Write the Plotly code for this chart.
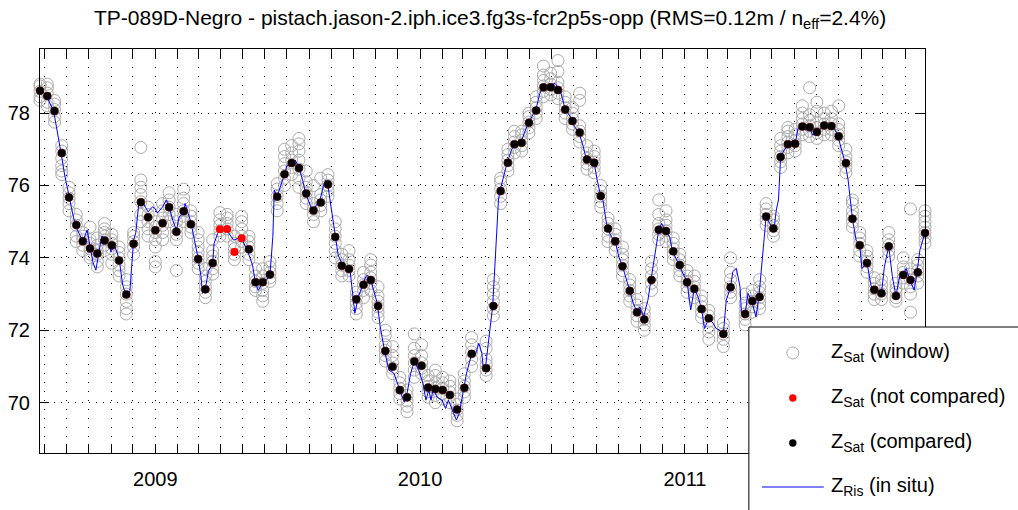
import plotly.graph_objects as go

TITLE = "TP-089D-Negro - pistach.jason-2.iph.ice3.fg3s-fcr2p5s-opp (RMS=0.12m / n<sub>eff</sub>=2.4%)"

# ---- satellite heights, compared (black) ----
cmp_dates = [
    "2008-07-26", "2008-08-05", "2008-08-15", "2008-08-25", "2008-09-04", "2008-09-14",
    "2008-09-23", "2008-10-03", "2008-10-13", "2008-10-23", "2008-11-02", "2008-11-12",
    "2008-11-22", "2008-12-02", "2008-12-12", "2008-12-22", "2009-01-01", "2009-01-11",
    "2009-01-20", "2009-01-30", "2009-02-09", "2009-02-19", "2009-03-01", "2009-03-11",
    "2009-03-21", "2009-05-10", "2009-05-19", "2009-05-29", "2009-06-08", "2009-06-18",
    "2009-06-28", "2009-07-08", "2009-07-18", "2009-07-28", "2009-08-07", "2009-08-17",
    "2009-08-27", "2009-09-06", "2009-09-15", "2009-09-25", "2009-10-05", "2009-10-15",
    "2009-10-25", "2009-11-04", "2009-11-14", "2009-11-24", "2009-12-04", "2009-12-14",
    "2009-12-24", "2010-01-03", "2010-01-12", "2010-01-22", "2010-02-01", "2010-02-11",
    "2010-02-21", "2010-03-03", "2010-03-13", "2010-04-02", "2010-04-12", "2010-04-22",
    "2010-05-02", "2010-05-11", "2010-05-21", "2010-05-31", "2010-06-10", "2010-06-20",
    "2010-06-30", "2010-07-10", "2010-07-20", "2010-07-30", "2010-08-09", "2010-08-19",
    "2010-08-29", "2010-09-07", "2010-09-17", "2010-09-27", "2010-10-07", "2010-10-17",
    "2010-10-27", "2010-11-06", "2010-11-16", "2010-11-26", "2010-12-06", "2010-12-16",
    "2010-12-25", "2011-01-04", "2011-01-14", "2011-01-24", "2011-02-03", "2011-02-23",
    "2011-03-05", "2011-03-25", "2011-04-04", "2011-04-14", "2011-04-23", "2011-05-03",
    "2011-05-13", "2011-05-23", "2011-06-02", "2011-06-12", "2011-06-22", "2011-07-02",
    "2011-07-12", "2011-07-22", "2011-08-01", "2011-08-11", "2011-08-20", "2011-08-30",
    "2011-09-09", "2011-09-19", "2011-09-29", "2011-10-09", "2011-10-19", "2011-10-29",
    "2011-11-08", "2011-11-18", "2011-11-28",
]
cmp_vals = [
    78.62, 78.47, 78.06, 76.90, 75.67, 74.91,
    74.46, 74.26, 74.12, 74.48, 74.35, 73.93,
    72.99, 74.39, 75.54, 75.12, 74.76, 74.96,
    75.40, 74.72, 75.29, 74.93, 73.97, 73.13,
    73.86, 74.24, 73.33, 73.33, 73.54, 75.69,
    76.31, 76.62, 76.48, 75.78, 75.31, 75.53,
    76.03, 74.58, 73.78, 73.69, 72.86, 73.26,
    73.39, 72.67, 71.43, 70.99, 70.35, 70.15,
    71.14, 71.02, 70.42, 70.38, 70.35, 70.21,
    69.81, 70.41, 71.35, 70.95, 72.67, 75.85,
    76.63, 77.14, 77.18, 77.73, 78.07, 78.71,
    78.71, 78.64, 78.10, 77.78, 77.46, 76.72,
    76.63, 75.71, 74.81, 74.46, 73.77, 73.09,
    72.50, 72.30, 73.39, 74.78, 74.74, 74.18,
    73.80, 73.33, 73.15, 72.59, 72.33, 71.90,
    73.19, 72.45, 72.81, 72.92, 75.14, 74.81,
    76.79, 77.14, 77.15, 77.63, 77.61, 77.48,
    77.66, 77.64, 77.36, 76.62, 75.08, 74.35,
    73.86, 73.12, 73.02, 74.32, 72.95, 73.53,
    73.39, 73.60, 74.69,
]
# window samples around each compared pass (grey circles)
win_cmp = [
    [78.35, 78.45, 78.6, 78.75, 78.8], [78.2, 78.3, 78.55, 78.7, 78.8],
    [77.75, 77.9, 78.1, 78.25, 78.35], [76.3, 76.4, 76.55, 76.75, 76.95, 77.1],
    [75.3, 75.5, 75.65, 75.8, 75.95], [74.45, 74.6, 74.9, 75.05, 75.2],
    [74.2, 74.35, 74.5, 74.6, 74.7], [74.0, 74.1, 74.25, 74.4, 74.5, 74.85],
    [73.75, 73.9, 74.1, 74.2, 74.35, 74.55], [74.2, 74.35, 74.5, 74.6, 74.7, 74.8, 74.95],
    [73.85, 74.1, 74.25, 74.4, 74.5, 74.65], [73.5, 73.65, 73.8, 74.0, 74.15, 74.3],
    [72.45, 72.6, 72.8, 73.0, 73.2, 73.4], [74.1, 74.3, 74.45, 74.6, 74.7],
    [75.0, 75.2, 75.55, 75.75, 75.95, 76.15, 77.05], [74.6, 74.8, 75.0, 75.2, 75.4],
    [73.75, 73.9, 74.3, 74.5, 74.7, 74.85, 75.0], [74.5, 74.7, 74.9, 75.1, 75.3, 75.5],
    [75.0, 75.2, 75.4, 75.6, 75.8], [73.65, 74.5, 74.65, 74.8, 75.0, 75.2],
    [75.0, 75.15, 75.3, 75.5, 75.65, 75.9], [74.7, 74.85, 75.0, 75.15, 75.3],
    [73.7, 73.85, 74.0, 74.15, 74.3, 74.5, 74.7], [72.9, 73.05, 73.2, 73.35, 73.5, 73.7],
    [73.55, 73.7, 73.9, 74.05, 74.2, 74.5], [73.95, 74.1, 74.3, 74.45, 74.6],
    [73.1, 73.2, 73.35, 73.5, 73.7], [72.8, 72.95, 73.1, 73.3, 73.5, 73.7],
    [73.35, 73.45, 73.6, 73.75, 73.9], [75.3, 75.5, 75.7, 75.9, 76.05],
    [76.0, 76.2, 76.4, 76.6, 76.8, 77.0], [76.3, 76.5, 76.7, 76.9, 77.1],
    [75.95, 76.2, 76.45, 76.7, 76.95, 77.15, 77.3], [75.5, 75.65, 75.8, 75.95, 76.1, 76.4],
    [75.0, 75.2, 75.35, 75.5, 76.0], [75.3, 75.45, 75.6, 75.75, 76.2],
    [75.7, 75.85, 76.0, 76.15, 76.3], [74.0, 74.2, 74.4, 74.6, 74.8, 75.0],
    [73.5, 73.65, 73.8, 73.95, 74.1], [73.5, 73.65, 73.8, 73.95, 74.2],
    [72.45, 72.6, 72.75, 72.9, 73.05], [72.9, 73.1, 73.25, 73.4, 73.6],
    [73.1, 73.3, 73.45, 73.6, 73.8, 73.95], [72.35, 72.5, 72.65, 72.8, 72.95, 73.2],
    [71.15, 71.3, 71.45, 71.6, 71.85, 72.0], [70.8, 70.95, 71.1, 71.3, 71.55],
    [70.1, 70.25, 70.4, 70.55, 70.7], [69.75, 69.9, 70.05, 70.2, 70.35],
    [70.7, 70.9, 71.1, 71.3, 71.5, 71.9], [70.8, 70.95, 71.1, 71.3, 71.6],
    [70.15, 70.3, 70.45, 70.6, 70.75], [70.0, 70.2, 70.4, 70.55, 70.75, 70.9],
    [70.1, 70.25, 70.4, 70.55, 70.7], [70.0, 70.15, 70.3, 70.45, 70.6],
    [69.5, 69.65, 69.8, 69.95, 70.1], [70.15, 70.3, 70.45, 70.6, 70.8],
    [71.0, 71.2, 71.4, 71.6, 71.8], [70.75, 70.9, 71.05, 71.2, 71.5, 71.7],
    [72.4, 72.6, 72.8, 73.0, 73.2, 73.4], [75.5, 75.7, 75.9, 76.1, 76.2],
    [76.4, 76.55, 76.7, 76.85, 77.0], [76.9, 77.05, 77.2, 77.35, 77.5],
    [76.95, 77.1, 77.25, 77.4, 77.5], [77.45, 77.6, 77.75, 77.9, 78.0],
    [77.85, 78.0, 78.15, 78.3, 78.45], [78.45, 78.6, 78.75, 78.9, 79.05, 79.3],
    [78.5, 78.65, 78.8, 78.95, 79.1], [78.4, 78.55, 78.7, 78.85, 79.15, 79.45],
    [77.85, 78.0, 78.15, 78.3, 78.45], [77.55, 77.7, 77.85, 78.0, 78.15],
    [77.2, 77.35, 77.5, 77.65, 78.35, 78.55], [76.45, 76.6, 76.75, 76.9, 77.1],
    [76.35, 76.5, 76.65, 76.8, 76.95], [75.4, 75.55, 75.7, 75.85, 76.0],
    [74.45, 74.6, 74.8, 74.95, 75.1], [74.2, 74.35, 74.5, 74.65, 74.8],
    [73.5, 73.65, 73.8, 73.95, 74.1, 74.3], [72.8, 72.95, 73.1, 73.25, 73.4],
    [72.25, 72.4, 72.55, 72.7, 72.85], [72.0, 72.15, 72.3, 72.45, 72.6],
    [73.1, 73.3, 73.5, 73.7, 73.9], [74.5, 74.65, 74.8, 74.95, 75.2, 75.6],
    [74.45, 74.6, 74.75, 74.9, 75.05, 75.3], [73.95, 74.1, 74.25, 74.4, 74.55],
    [73.5, 73.65, 73.8, 73.95, 74.1], [73.05, 73.2, 73.35, 73.5, 73.65],
    [72.9, 73.05, 73.2, 73.35, 73.5], [72.35, 72.5, 72.65, 72.8, 72.95],
    [71.75, 71.95, 72.1, 72.25, 72.4, 72.55], [71.55, 71.75, 71.9, 72.05, 72.2],
    [72.9, 73.05, 73.2, 73.4, 73.6, 74.0], [72.15, 72.3, 72.45, 72.6, 72.75, 73.0],
    [72.5, 72.65, 72.8, 72.95, 73.1], [72.6, 72.75, 72.9, 73.05, 73.2, 73.4],
    [74.9, 75.05, 75.2, 75.35, 75.5], [74.6, 74.75, 74.9, 75.05, 75.15],
    [76.5, 76.65, 76.8, 76.95, 77.1, 77.3], [76.9, 77.05, 77.2, 77.35, 77.5, 77.6],
    [76.95, 77.1, 77.25, 77.4, 77.55], [77.4, 77.55, 77.7, 77.85, 78.0, 78.2],
    [77.35, 77.5, 77.65, 77.8, 77.95, 78.7], [77.3, 77.45, 77.6, 77.75, 78.05, 78.3],
    [77.4, 77.55, 77.7, 77.85, 78.0], [77.4, 77.55, 77.7, 77.85, 78.05],
    [77.1, 77.25, 77.4, 77.55, 77.7, 78.2], [76.35, 76.5, 76.65, 76.8, 77.0],
    [74.85, 75.0, 75.15, 75.3, 75.5, 75.6], [74.05, 74.2, 74.4, 74.55, 74.7],
    [73.6, 73.75, 73.9, 74.05, 74.2], [72.85, 73.0, 73.15, 73.3, 73.45],
    [72.85, 73.0, 73.1, 73.25, 73.4], [74.05, 74.2, 74.35, 74.5, 74.7],
    [72.8, 72.9, 73.05, 73.15, 73.3], [73.3, 73.45, 73.6, 73.75, 74.0],
    [72.5, 73.0, 73.2, 73.4, 73.55, 73.7, 75.35], [73.3, 73.5, 73.65, 73.8, 73.95],
    [74.4, 74.55, 74.7, 74.85, 75.0, 75.15, 75.3],
]

# ---- satellite heights, not compared (red) ----
nc_dates = ["2009-03-31", "2009-04-10", "2009-04-20", "2009-04-30"]
nc_vals = [74.79, 74.80, 74.16, 74.54]
win_nc = [
    [74.6, 74.75, 74.9, 75.05, 75.25], [74.6, 74.8, 74.95, 75.1, 75.2],
    [73.95, 74.1, 74.25, 74.4, 74.6], [74.3, 74.45, 74.6, 74.8, 75.0, 75.15],
]

# ---- in situ gauge (blue line) ----
insitu_dates = [
    "2008-07-26", "2008-08-05", "2008-08-14", "2008-08-20", "2008-08-24", "2008-08-29",
    "2008-09-04", "2008-09-08", "2008-09-13", "2008-09-19", "2008-09-23", "2008-09-29",
    "2008-10-03", "2008-10-07", "2008-10-11", "2008-10-17", "2008-10-19", "2008-10-23",
    "2008-10-29", "2008-11-01", "2008-11-05", "2008-11-12", "2008-11-17", "2008-11-22",
    "2008-11-27", "2008-12-02", "2008-12-05", "2008-12-09", "2008-12-13", "2008-12-22",
    "2008-12-28", "2008-12-31", "2009-01-04", "2009-01-11", "2009-01-16", "2009-01-20",
    "2009-01-25", "2009-01-30", "2009-02-03", "2009-02-09", "2009-02-11", "2009-02-15",
    "2009-02-19", "2009-02-23", "2009-03-01", "2009-03-05", "2009-03-07", "2009-03-11",
    "2009-03-15", "2009-03-21", "2009-03-23", "2009-03-28", "2009-03-31", "2009-04-09",
    "2009-04-19", "2009-04-29", "2009-05-04", "2009-05-08", "2009-05-15", "2009-05-19",
    "2009-05-23", "2009-05-29", "2009-06-03", "2009-06-08", "2009-06-12", "2009-06-14",
    "2009-06-18", "2009-06-23", "2009-06-28", "2009-07-02", "2009-07-08", "2009-07-13",
    "2009-07-18", "2009-07-23", "2009-07-27", "2009-08-02", "2009-08-06", "2009-08-11",
    "2009-08-16", "2009-08-21", "2009-08-24", "2009-08-27", "2009-09-01", "2009-09-06",
    "2009-09-10", "2009-09-16", "2009-09-20", "2009-09-26", "2009-10-03", "2009-10-08",
    "2009-10-18", "2009-10-20", "2009-10-25", "2009-10-29", "2009-11-03", "2009-11-07",
    "2009-11-13", "2009-11-19", "2009-11-26", "2009-11-30", "2009-12-05", "2009-12-10",
    "2009-12-14", "2009-12-19", "2009-12-24", "2009-12-30", "2010-01-05", "2010-01-09",
    "2010-01-13", "2010-01-16", "2010-01-19", "2010-01-24", "2010-01-31", "2010-02-05",
    "2010-02-09", "2010-02-14", "2010-02-20", "2010-02-24", "2010-03-02", "2010-03-06",
    "2010-03-12", "2010-03-18", "2010-03-23", "2010-03-27", "2010-03-29", "2010-04-01",
    "2010-04-05", "2010-04-11", "2010-04-14", "2010-04-19", "2010-04-21", "2010-05-01",
    "2010-05-07", "2010-05-11", "2010-05-21", "2010-05-28", "2010-06-04", "2010-06-10",
    "2010-06-15", "2010-06-19", "2010-06-27", "2010-07-06", "2010-07-13", "2010-07-17",
    "2010-07-20", "2010-07-27", "2010-08-02", "2010-08-08", "2010-08-14", "2010-08-18",
    "2010-08-23", "2010-08-29", "2010-09-02", "2010-09-07", "2010-09-10", "2010-09-16",
    "2010-09-22", "2010-09-27", "2010-10-02", "2010-10-07", "2010-10-13", "2010-10-17",
    "2010-10-22", "2010-10-27", "2010-10-31", "2010-11-05", "2010-11-11", "2010-11-15",
    "2010-11-21", "2010-11-26", "2010-11-30", "2010-12-05", "2010-12-11", "2010-12-15",
    "2010-12-24", "2011-01-01", "2011-01-04", "2011-01-09", "2011-01-14", "2011-01-19",
    "2011-01-24", "2011-01-28", "2011-02-03", "2011-02-09", "2011-02-13", "2011-02-18",
    "2011-02-23", "2011-02-27", "2011-03-05", "2011-03-08", "2011-03-13", "2011-03-18",
    "2011-03-20", "2011-03-25", "2011-03-29", "2011-04-03", "2011-04-09", "2011-04-13",
    "2011-04-19", "2011-04-23", "2011-04-28", "2011-05-04", "2011-05-07", "2011-05-10",
    "2011-05-13", "2011-05-18", "2011-05-24", "2011-05-30", "2011-06-02", "2011-06-06",
    "2011-06-12", "2011-06-16", "2011-06-22", "2011-06-26", "2011-07-01", "2011-07-08",
    "2011-07-11", "2011-07-17", "2011-07-22", "2011-07-26", "2011-07-31", "2011-08-04",
    "2011-08-10", "2011-08-14", "2011-08-17", "2011-08-20", "2011-08-25", "2011-08-30",
    "2011-09-02", "2011-09-09", "2011-09-15", "2011-09-19", "2011-09-29", "2011-10-03",
    "2011-10-09", "2011-10-14", "2011-10-19", "2011-10-24", "2011-10-29", "2011-11-02",
    "2011-11-07", "2011-11-13", "2011-11-17", "2011-11-21", "2011-11-28",
]
insitu_vals = [
    78.69, 78.44, 78.03, 77.40, 76.90, 76.29,
    75.68, 75.32, 74.88, 74.60, 74.46, 74.77,
    74.27, 73.88, 73.66, 74.41, 74.60, 74.55,
    74.35, 74.16, 74.38, 73.99, 73.25, 72.94,
    73.10, 74.49, 74.69, 75.46, 75.60, 75.27,
    75.41, 75.38, 75.24, 75.41, 75.60, 75.41,
    75.04, 74.77, 75.14, 75.23, 75.50, 75.23,
    75.00, 74.58, 73.99, 73.48, 73.02, 73.16,
    73.62, 73.85, 74.40, 74.68, 74.77, 74.77,
    74.49, 74.57, 74.35, 74.20, 73.80, 73.30,
    73.10, 73.33, 73.39, 73.52, 74.60, 75.87,
    75.70, 76.00, 76.31, 76.56, 76.65, 76.70,
    76.48, 76.15, 75.79, 75.46, 75.27, 75.46,
    75.60, 76.01, 76.15, 75.98, 75.32, 74.57,
    74.08, 73.80, 73.72, 73.72, 72.47, 72.93,
    73.48, 73.52, 73.39, 73.10, 72.74, 72.10,
    71.43, 70.90, 70.81, 70.58, 70.30, 70.02,
    70.26, 70.81, 71.14, 70.90, 70.53, 70.07,
    70.35, 70.07, 70.40, 70.16, 70.07, 69.84,
    70.07, 69.80, 69.52, 69.70, 70.35, 70.81,
    71.27, 71.31, 71.64, 71.37, 70.99, 70.95,
    71.64, 72.67, 73.75, 75.60, 75.85, 76.63,
    76.98, 77.14, 77.25, 77.62, 77.90, 78.13,
    78.54, 78.71, 78.75, 78.82, 78.64, 78.36,
    78.10, 77.90, 77.62, 77.46, 77.07, 76.72,
    76.79, 76.63, 76.15, 75.71, 75.60, 74.81,
    74.58, 74.46, 74.03, 73.77, 73.39, 73.09,
    72.74, 72.50, 72.65, 72.37, 72.83, 73.39,
    74.21, 74.78, 74.95, 74.74, 74.58, 74.18,
    73.80, 73.48, 73.33, 72.56, 73.15, 72.93,
    72.59, 72.05, 72.33, 72.19, 72.05, 72.00,
    71.90, 72.83, 73.19, 73.62, 73.71, 73.20,
    72.47, 72.45, 73.02, 72.81, 72.37, 72.92,
    74.22, 75.14, 74.95, 74.81, 75.32, 75.60,
    76.79, 76.98, 77.14, 77.25, 77.15, 77.58,
    77.63, 77.53, 77.61, 77.39, 77.48, 77.58,
    77.66, 77.62, 77.64, 77.58, 77.36, 77.07,
    76.62, 76.15, 75.60, 75.08, 74.49, 74.35,
    73.71, 73.86, 73.20, 73.12, 73.02, 73.75,
    74.32, 73.48, 72.95, 73.48, 73.53, 73.71,
    73.39, 73.11, 73.60, 74.22, 74.69,
]

year_ticks = ["2009-01-01", "2010-01-01", "2011-01-01"]
year_labels = ["2009", "2010", "2011"]
y_ticks = [70, 72, 74, 76, 78]
legend_labels = [
    "Z<sub>Sat</sub> (window)",
    "Z<sub>Sat</sub> (not compared)",
    "Z<sub>Sat</sub> (compared)",
    "Z<sub>Ris</sub> (in situ)",
]

# ---- flatten window samples ----
win_x, win_y = [], []
for d, vals in list(zip(cmp_dates, win_cmp)) + list(zip(nc_dates, win_nc)):
    for v in vals:
        win_x.append(d)
        win_y.append(v)

FONT = "Liberation Sans, Arial, Helvetica, sans-serif"
W, H = 1018, 510
ML, MT = 39.5, 49
MR = W - 925.3
MB = H - 453
PW, PH = W - ML - MR, H - MT - MB


def px(x):
    # page pixel -> paper x
    return (x - ML) / PW


def py(y):
    # page pixel -> paper y
    return (H - MB - y) / PH


fig = go.Figure()
fig.add_trace(go.Scatter(
    x=win_x, y=win_y, mode="markers", cliponaxis=False, showlegend=False,
    marker=dict(symbol="circle-open", size=12, color="#aaaaaa", line=dict(width=1, color="#aaaaaa")),
))
fig.add_trace(go.Scatter(
    x=insitu_dates, y=insitu_vals, mode="lines", showlegend=False,
    line=dict(color="#0000ff", width=1),
))
fig.add_trace(go.Scatter(
    x=nc_dates, y=nc_vals, mode="markers", cliponaxis=False, showlegend=False,
    marker=dict(size=8, color="#ff0000", line=dict(width=0)),
))
fig.add_trace(go.Scatter(
    x=cmp_dates, y=cmp_vals, mode="markers", cliponaxis=False, showlegend=False,
    marker=dict(size=8, color="#000000", line=dict(width=0.6, color="#500000")),
))

fig.update_xaxes(
    type="date", range=["2008-07-26", "2011-11-28"], automargin=False,
    tickmode="array", tickvals=year_ticks, ticktext=year_labels,
    ticks="inside", ticklen=9, tickwidth=1, tickcolor="black",
    showline=True, linecolor="black", linewidth=1, mirror="ticks",
    showgrid=True, gridcolor="black", gridwidth=1, griddash="1px,8px",
    minor=dict(tickmode="linear", tick0="2008-08-01", dtick="M1", ticks="inside", ticklen=9,
               tickwidth=1, tickcolor="black", showgrid=True, gridcolor="black", gridwidth=1,
               griddash="1px,8px"),
    zeroline=False, tickfont=dict(family=FONT, size=20, color="black"),
    ticklabelstandoff=8,
)
fig.update_yaxes(
    range=[68.61, 79.77], tickmode="array", tickvals=y_ticks, automargin=False,
    ticks="inside", ticklen=9, tickwidth=1, tickcolor="black",
    showline=True, linecolor="black", linewidth=1, mirror="ticks",
    showgrid=True, gridcolor="black", gridwidth=1, griddash="1px,6px",
    zeroline=False, tickfont=dict(family=FONT, size=20, color="black"),
    ticklabelstandoff=5,
)

shapes = [
    dict(type="rect", xref="paper", yref="paper", x0=px(749), x1=px(1040), y0=py(327), y1=py(540),
         fillcolor="white", line=dict(color="black", width=1), layer="above"),
    dict(type="circle", xref="paper", yref="paper", xsizemode="pixel", ysizemode="pixel",
         xanchor=px(793), yanchor=py(353), x0=-6, x1=6, y0=-6, y1=6,
         fillcolor="white", line=dict(color="#aaaaaa", width=1), layer="above"),
    dict(type="circle", xref="paper", yref="paper", xsizemode="pixel", ysizemode="pixel",
         xanchor=px(793), yanchor=py(398), x0=-3.7, x1=3.7, y0=-3.7, y1=3.7,
         fillcolor="#ff0000", line=dict(color="#ff0000", width=0), layer="above"),
    dict(type="circle", xref="paper", yref="paper", xsizemode="pixel", ysizemode="pixel",
         xanchor=px(793), yanchor=py(443), x0=-3.7, x1=3.7, y0=-3.7, y1=3.7,
         fillcolor="#000000", line=dict(color="#000000", width=0), layer="above"),
    dict(type="line", xref="paper", yref="paper", x0=px(762), x1=px(824), y0=py(487), y1=py(487),
         line=dict(color="#0000ff", width=1), layer="above"),
]

annotations = [
    dict(text=TITLE, xref="paper", yref="paper", x=px(490), y=py(19), xanchor="center", yanchor="middle",
         showarrow=False, font=dict(family=FONT, size=21, color="black")),
]
for lbl, yy in zip(legend_labels, [352, 397, 442, 486]):
    annotations.append(dict(text=lbl, xref="paper", yref="paper", x=px(829), y=py(yy),
                            xanchor="left", yanchor="middle", showarrow=False,
                            font=dict(family=FONT, size=20, color="black")))

fig.update_layout(
    width=W, height=H, margin=dict(l=ML, r=MR, t=MT, b=MB, pad=0, autoexpand=False),
    paper_bgcolor="white", plot_bgcolor="white", showlegend=False,
    shapes=shapes, annotations=annotations,
    font=dict(family=FONT, size=20, color="black"),
)

fig.write_html(
    "out.html",
    config={"displayModeBar": False},
    post_script="document.body.style.margin='0';document.body.style.overflow='hidden';",
)
